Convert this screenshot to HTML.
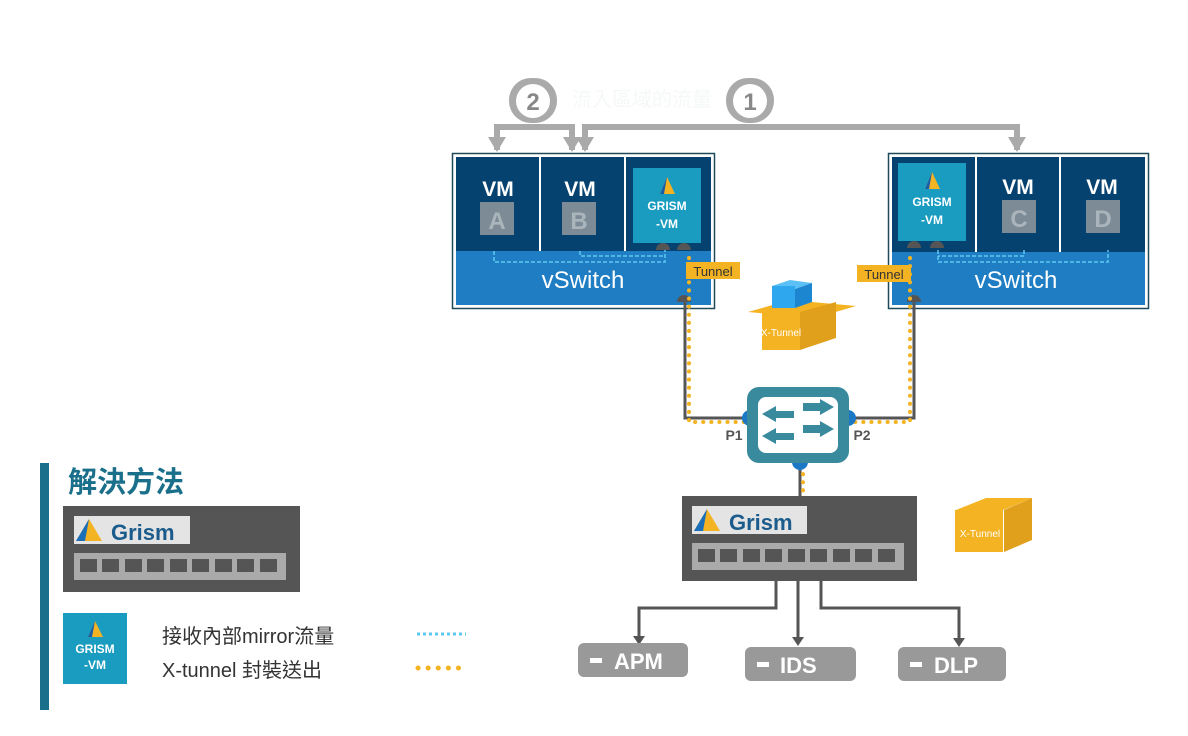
<!DOCTYPE html>
<html><head><meta charset="utf-8"><style>
body{margin:0;background:#fff;}
svg{display:block;font-family:"Liberation Sans","Noto Sans CJK TC",sans-serif;}
</style></head><body>
<svg width="1188" height="736" viewBox="0 0 1188 736">
<g fill="#aaa" stroke="none">
<rect x="509" y="78" width="48" height="45" rx="22"/>
<rect x="726" y="78" width="48" height="45" rx="22"/>
</g>
<g stroke="#aaa" stroke-width="6" fill="none">
<path d="M497 150 V127 H572 V150"/>
<path d="M585 150 V127 H1017 V150"/>
</g>
<g fill="#aaa">
<polygon points="488,137 506,137 497,152"/>
<polygon points="563,137 581,137 572,152"/>
<polygon points="576,137 594,137 585,152"/>
<polygon points="1008,137 1026,137 1017,152"/>
</g>
<circle cx="533" cy="101" r="17" fill="#fff"/>
<circle cx="750" cy="101" r="17" fill="#fff"/>
<text x="533" y="110" font-size="24" font-weight="bold" fill="#888" text-anchor="middle">2</text>
<text x="750" y="110" font-size="24" font-weight="bold" fill="#888" text-anchor="middle">1</text>
<text x="572" y="106" font-size="20" fill="#f5f8f8">流入區域的流量</text>

<rect x="452.5" y="153.5" width="262" height="155" fill="#fff" stroke="#1f4a5a" stroke-width="1.5"/>
<rect x="456" y="157" width="255" height="94" fill="#06426f"/>
<rect x="456" y="251" width="255" height="54" fill="#1f7ec3"/>
<rect x="539" y="157" width="2" height="94" fill="#fff"/>
<rect x="624" y="157" width="2" height="94" fill="#fff"/>
<text x="498" y="196" font-size="21" font-weight="bold" fill="#fff" text-anchor="middle">VM</text>
<rect x="480" y="202" width="34" height="33" fill="#7d8b96"/>
<text x="497" y="229" font-size="24" font-weight="bold" fill="#aab4bb" text-anchor="middle">A</text>
<text x="580" y="196" font-size="21" font-weight="bold" fill="#fff" text-anchor="middle">VM</text>
<rect x="562" y="202" width="34" height="33" fill="#7d8b96"/>
<text x="579" y="229" font-size="24" font-weight="bold" fill="#aab4bb" text-anchor="middle">B</text>
<rect x="633" y="168" width="68" height="75" fill="#1a9bc0"/>
<polygon points="667,177 660,194 675,194" fill="#f4b323"/>
<polygon points="667,177 660,194 664,194" fill="#1a5ea8"/>
<text x="667" y="210" font-size="12" font-weight="bold" fill="#fff" text-anchor="middle">GRISM</text>
<text x="667" y="228" font-size="12" font-weight="bold" fill="#fff" text-anchor="middle">-VM</text>
<text x="583" y="288" font-size="24" fill="#fff" text-anchor="middle">vSwitch</text>
<path d="M494 251 V262 H665 V250 M580 251 V256 H665" stroke="#5fc8f0" stroke-width="1.5" stroke-dasharray="4,2" fill="none"/>
<path d="M656 250 a7 7 0 0 1 14 0z M677 250 a7 7 0 0 1 14 0z M677 302 a7 7 0 0 1 14 0z" fill="#555"/>
<rect x="686" y="262" width="54" height="17" fill="#f4b323"/>
<text x="713" y="276" font-size="13" fill="#333" text-anchor="middle">Tunnel</text>

<rect x="888.5" y="153.5" width="260" height="155" fill="#fff" stroke="#1f4a5a" stroke-width="1.5"/>
<rect x="892" y="157" width="253" height="95" fill="#06426f"/>
<rect x="892" y="252" width="253" height="53" fill="#1f7ec3"/>
<rect x="975" y="157" width="2" height="95" fill="#fff"/>
<rect x="1059" y="157" width="2" height="95" fill="#fff"/>
<rect x="898" y="163" width="68" height="78" fill="#1a9bc0"/>
<polygon points="932,172 925,189 940,189" fill="#f4b323"/>
<polygon points="932,172 925,189 929,189" fill="#1a5ea8"/>
<text x="932" y="206" font-size="12" font-weight="bold" fill="#fff" text-anchor="middle">GRISM</text>
<text x="932" y="224" font-size="12" font-weight="bold" fill="#fff" text-anchor="middle">-VM</text>
<text x="1018" y="194" font-size="21" font-weight="bold" fill="#fff" text-anchor="middle">VM</text>
<rect x="1002" y="200" width="34" height="33" fill="#7d8b96"/>
<text x="1019" y="227" font-size="24" font-weight="bold" fill="#aab4bb" text-anchor="middle">C</text>
<text x="1102" y="194" font-size="21" font-weight="bold" fill="#fff" text-anchor="middle">VM</text>
<rect x="1086" y="200" width="34" height="33" fill="#7d8b96"/>
<text x="1103" y="227" font-size="24" font-weight="bold" fill="#aab4bb" text-anchor="middle">D</text>
<text x="1016" y="288" font-size="24" fill="#fff" text-anchor="middle">vSwitch</text>
<path d="M938 250 V262 H1108 V250 M1024 250 V256 H938" stroke="#5fc8f0" stroke-width="1.5" stroke-dasharray="4,2" fill="none"/>
<path d="M907 248 a7 7 0 0 1 14 0z M930 248 a7 7 0 0 1 14 0z M907 302 a7 7 0 0 1 14 0z" fill="#555"/>
<rect x="857" y="265" width="54" height="17" fill="#f4b323"/>
<text x="884" y="279" font-size="13" fill="#333" text-anchor="middle">Tunnel</text>

<g fill="none">
<path d="M685 302 V418 H748" stroke="#555" stroke-width="3"/>
<path d="M914 302 V418 H850" stroke="#555" stroke-width="3"/>
<path d="M800 462 V496" stroke="#555" stroke-width="3"/>
<path d="M689 258 V422 H748" stroke="#f4b323" stroke-width="4" stroke-dasharray="0.1,8" stroke-linecap="round"/>
<path d="M910 258 V422 H850" stroke="#f4b323" stroke-width="4" stroke-dasharray="0.1,8" stroke-linecap="round"/>
<path d="M803 466 V492" stroke="#f4b323" stroke-width="4" stroke-dasharray="0.1,8" stroke-linecap="round"/>
</g>

<polygon points="748,312 790,300 856,306 815,318" fill="#f4b323"/>
<polygon points="762,312 800,312 800,350 762,350" fill="#f4b323"/>
<polygon points="800,312 836,302 836,338 800,350" fill="#e0a01c"/>
<polygon points="772,286 790,280 812,283 795,289" fill="#5bc0f5"/>
<rect x="772" y="286" width="23" height="22" fill="#2ea7ee"/>
<polygon points="795,289 812,283 812,302 795,308" fill="#1c86d0"/>
<text x="781" y="336" font-size="10" fill="#fff" text-anchor="middle">X-Tunnel</text>

<path d="M742 418 a8 8 0 0 1 8 -8 v16 a8 8 0 0 1 -8 -8z M856 418 a8 8 0 0 0 -8 -8 v16 a8 8 0 0 0 8 -8z M792 462 a8 8 0 0 0 16 0z" fill="#1b78c4"/>
<rect x="747" y="387" width="102" height="76" rx="12" fill="#3a8a9e"/>
<rect x="758" y="397" width="80" height="56" rx="8" fill="#fff"/>
<g fill="#3a8a9e">
<polygon points="762,414 776,406 776,411 794,411 794,418 776,418 776,422"/>
<polygon points="762,436 776,428 776,433 794,433 794,440 776,440 776,444"/>
<polygon points="834,407 820,399 820,403 803,403 803,411 820,411 820,415"/>
<polygon points="834,429 820,421 820,425 803,425 803,433 820,433 820,437"/>
</g>
<text x="734" y="440" font-size="14" font-weight="bold" fill="#555" text-anchor="middle">P1</text>
<text x="862" y="440" font-size="14" font-weight="bold" fill="#555" text-anchor="middle">P2</text>

<rect x="682" y="496" width="235" height="85" fill="#555"/>
<rect x="692" y="506" width="115" height="28" fill="#e4e4e4"/>
<polygon points="707,509 694,531 720,531" fill="#f4b323"/>
<polygon points="707,509 694,531 703,531" fill="#1a6fb8"/>
<text x="729" y="530" font-size="22" font-weight="bold" fill="#1c5c8c">Grism</text>
<rect x="692" y="543" width="212" height="27" fill="#aaa"/>
<g fill="#555"><rect x="698" y="549" width="17" height="13"/><rect x="720" y="549" width="17" height="13"/><rect x="743" y="549" width="17" height="13"/><rect x="765" y="549" width="17" height="13"/><rect x="788" y="549" width="17" height="13"/><rect x="810" y="549" width="17" height="13"/><rect x="833" y="549" width="17" height="13"/><rect x="855" y="549" width="17" height="13"/><rect x="878" y="549" width="17" height="13"/></g>

<polygon points="956,510 986,498 1032,498 1003,510" fill="#f4b323"/>
<rect x="955" y="510" width="48" height="42" fill="#f4b323"/>
<polygon points="1004,510 1032,498 1032,540 1004,552" fill="#e0a01c"/>
<text x="980" y="537" font-size="10" fill="#fff" text-anchor="middle">X-Tunnel</text>

<g stroke="#555" stroke-width="3" fill="none">
<path d="M776 581 V608 H639 V640"/>
<path d="M798 581 V642"/>
<path d="M821 581 V608 H959 V644"/>
</g>
<g fill="#555"><polygon points="633,636 645,636 639,645"/><polygon points="792,637 804,637 798,646"/><polygon points="953,638 965,638 959,647"/></g>
<g fill="#999">
<rect x="578" y="643" width="110" height="34" rx="6"/><rect x="745" y="647" width="111" height="34" rx="6"/><rect x="898" y="647" width="108" height="34" rx="6"/>
</g>
<g fill="#fff"><rect x="590" y="658" width="12" height="5"/><rect x="757" y="662" width="12" height="5"/><rect x="910" y="662" width="12" height="5"/></g>
<g font-size="22" font-weight="bold" fill="#fff">
<text x="614" y="669">APM</text><text x="780" y="673">IDS</text><text x="934" y="673">DLP</text>
</g>

<rect x="40" y="463" width="9" height="247" fill="#1a6f8a"/>
<text x="68" y="492" font-size="29" font-weight="bold" fill="#1a6f8a">解決方法</text>
<rect x="63" y="506" width="237" height="86" fill="#555"/>
<rect x="74" y="516" width="116" height="28" fill="#e4e4e4"/>
<polygon points="89,519 76,541 102,541" fill="#f4b323"/>
<polygon points="89,519 76,541 85,541" fill="#1a6fb8"/>
<text x="111" y="540" font-size="22" font-weight="bold" fill="#1c5c8c">Grism</text>
<rect x="74" y="553" width="212" height="27" fill="#aaa"/>
<g fill="#555"><rect x="80" y="559" width="17" height="13"/><rect x="102" y="559" width="17" height="13"/><rect x="125" y="559" width="17" height="13"/><rect x="147" y="559" width="17" height="13"/><rect x="170" y="559" width="17" height="13"/><rect x="192" y="559" width="17" height="13"/><rect x="215" y="559" width="17" height="13"/><rect x="237" y="559" width="17" height="13"/><rect x="260" y="559" width="17" height="13"/></g>
<rect x="63" y="613" width="64" height="71" fill="#1a9bc0"/>
<polygon points="95,621 88,637 103,637" fill="#f4b323"/>
<polygon points="95,621 88,637 92,637" fill="#1a5ea8"/>
<text x="95" y="653" font-size="12" font-weight="bold" fill="#fff" text-anchor="middle">GRISM</text>
<text x="95" y="669" font-size="12" font-weight="bold" fill="#fff" text-anchor="middle">-VM</text>
<text x="162" y="643" font-size="20" fill="#333">接收內部mirror流量</text>
<text x="162" y="677" font-size="20" fill="#333">X-tunnel 封裝送出</text>
<path d="M417 634 H466" stroke="#5fc8f0" stroke-width="3" stroke-dasharray="3,3"/>
<path d="M418 668 H466" stroke="#f4b323" stroke-width="5" stroke-dasharray="0.1,10" stroke-linecap="round"/>
</svg>
</body></html>
